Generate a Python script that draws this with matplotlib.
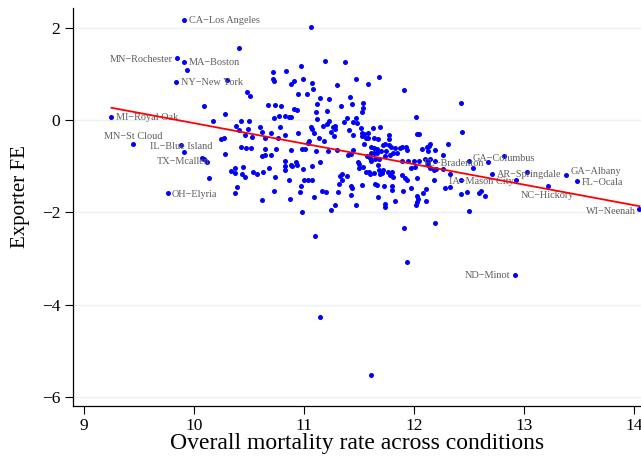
import numpy as np
import matplotlib
matplotlib.use("Agg")
import matplotlib.pyplot as plt

# labelled metro areas (name, mortality rate, exporter FE)
lab_names = ["CA−Los Angeles", "MN−Rochester", "MA−Boston", "NY−New York",
             "MI−Royal Oak", "MN−St Cloud", "IL−Blue Island", "TX−Mcallen",
             "OH−Elyria", "FL−Bradenton", "GA−Columbus", "IA−Mason City",
             "AR−Springdale", "GA−Albany", "FL−Ocala", "NC−Hickory",
             "WI−Neenah", "ND−Minot"]
lab_x = [9.91, 9.85, 9.91, 9.84, 9.25, 9.45, 9.91, 10.12, 9.76, 12.05, 12.50,
         12.28, 12.71, 13.38, 13.48, 13.22, 14.05, 12.92]
lab_y = [2.17, 1.34, 1.26, 0.83, 0.07, -0.51, -0.70, -0.90, -1.59, -0.89, -0.88,
         -1.47, -1.17, -1.19, -1.33, -1.44, -1.92, -3.35]

# everything else
other_x = [
    9.94, 10.41, 10.72, 10.84, 10.97, 10.72, 10.73, 10.91, 10.88, 10.30, 10.48, 10.51,
    10.95, 10.09, 10.67, 10.74, 10.79, 10.91, 10.94, 10.28, 10.73, 10.77, 10.83, 10.86,
    10.88, 10.17, 10.43, 10.50, 10.38, 10.60, 10.78, 10.41, 10.49, 10.62, 10.70, 10.95,
    10.46, 10.53, 10.27, 10.25, 10.65, 10.76, 10.83, 9.88, 10.43, 10.47, 10.52, 10.65,
    10.75, 10.88, 10.98, 10.28, 10.62, 10.65, 10.70, 10.07, 10.09, 10.83, 10.93, 10.88,
    10.89, 10.83, 10.94, 10.45, 10.37, 10.68, 10.34, 10.37, 10.54, 10.57, 10.63, 10.83,
    10.99, 10.44, 10.46, 10.14, 10.74, 10.86, 11.00, 10.39, 10.97, 10.37, 10.73, 10.96,
    10.62, 10.87, 10.98,
    11.06, 11.19, 11.37, 10.99, 11.47, 11.68, 11.07, 11.58, 11.30, 11.08, 11.03, 11.91,
    11.15, 11.23, 11.42, 11.54, 11.12, 11.34, 11.44, 11.54, 11.11, 11.21, 11.53, 11.47,
    11.39, 11.12, 11.23, 11.21, 11.36, 11.45, 11.48, 11.28, 11.26, 11.28, 11.17, 11.06,
    11.07, 11.52, 11.63, 11.69, 11.41, 11.09, 11.25, 11.53, 11.55, 11.53, 11.58, 11.58,
    11.56, 11.27, 11.45, 11.14, 11.77, 11.64, 11.67, 11.77, 11.18, 11.05, 11.04, 11.55,
    11.74, 11.72, 11.77, 11.79, 11.83, 11.87, 11.89, 11.93, 11.94, 11.61, 11.64, 11.66,
    11.30, 11.45, 11.01, 11.11, 11.22, 11.40, 11.43, 11.61, 11.64, 11.66, 11.70, 11.75,
    11.81, 11.85, 11.78, 11.74, 11.57, 11.60, 11.61, 11.65, 11.68, 11.15, 11.49, 11.50,
    11.89, 11.95, 11.67, 11.07, 11.50, 11.54, 11.97, 11.56, 11.59, 11.60, 11.64, 11.68,
    11.72, 11.71, 11.69, 11.76, 11.80, 11.78, 11.81, 11.35, 11.33, 11.39, 11.89, 11.92,
    11.94, 11.04, 11.07, 11.35, 11.32, 11.53, 11.65, 11.43, 11.44, 11.66, 11.73, 11.80,
    11.80, 11.97, 11.90, 11.16, 11.20, 11.31, 11.09, 11.43, 11.67, 11.83, 11.47, 11.74,
    11.74, 11.28, 11.25, 11.91, 11.10, 11.15, 11.61, 11.94,
    12.43, 12.02, 12.03, 12.05, 12.44, 12.31, 12.07, 12.12, 12.14, 12.15, 12.13, 12.19,
    12.26, 12.00, 12.10, 12.13, 12.15, 12.19, 12.13, 12.15, 12.18, 12.20, 12.26, 12.01,
    12.67, 12.82, 12.54, 13.03, 12.93, 12.03, 12.18, 12.33, 12.43, 12.11, 12.08, 12.03,
    12.04, 12.03, 12.02, 12.11, 12.33, 12.43, 12.48, 12.59, 12.61, 12.65, 12.50, 12.19]
other_y = [
    1.08, 1.57, 1.05, 1.07, 1.17, 0.88, 0.85, 0.85, 0.78, 0.87, 0.61, 0.53,
    0.56, 0.30, 0.33, 0.33, 0.30, 0.25, 0.22, 0.14, 0.05, 0.08, 0.09, 0.07,
    0.07, -0.01, -0.03, -0.02, -0.13, -0.15, -0.16, -0.21, -0.19, -0.25, -0.28, -0.29,
    -0.32, -0.37, -0.38, -0.41, -0.38, -0.38, -0.32, -0.54, -0.59, -0.60, -0.61, -0.63,
    -0.62, -0.65, -0.62, -0.74, -0.78, -0.75, -0.75, -0.82, -0.85, -0.88, -0.90, -0.97,
    -0.99, -1.00, -0.97, -1.01, -1.03, -1.04, -1.11, -1.15, -1.12, -1.16, -1.12, -1.09,
    -1.07, -1.18, -1.24, -1.25, -1.24, -1.30, -1.29, -1.45, -1.43, -1.58, -1.54, -1.57,
    -1.74, -1.72, -2.00,
    2.02, 1.28, 1.25, 0.88, 0.88, 0.93, 0.80, 0.78, 0.75, 0.67, 0.57, 0.65,
    0.48, 0.46, 0.49, 0.37, 0.35, 0.31, 0.34, 0.26, 0.18, 0.19, 0.17, 0.04,
    0.04, 0.03, -0.02, -0.09, -0.04, -0.05, -0.07, -0.12, -0.16, -0.20, -0.12, -0.15,
    -0.19, -0.17, -0.17, -0.15, -0.22, -0.28, -0.26, -0.28, -0.31, -0.35, -0.28, -0.38,
    -0.38, -0.35, -0.32, -0.38, -0.33, -0.38, -0.42, -0.42, -0.46, -0.46, -0.49, -0.51,
    -0.52, -0.55, -0.55, -0.59, -0.60, -0.61, -0.59, -0.58, -0.64, -0.59, -0.60, -0.63,
    -0.64, -0.65, -0.63, -0.67, -0.67, -0.75, -0.74, -0.71, -0.72, -0.72, -0.66, -0.66,
    -0.71, -0.71, -0.76, -0.78, -0.78, -0.83, -0.88, -0.85, -0.85, -0.91, -0.91, -0.96,
    -0.88, -0.88, -0.98, -1.00, -1.04, -1.02, -1.05, -1.13, -1.12, -1.17, -1.15, -1.09,
    -1.09, -1.15, -1.17, -1.13, -1.13, -1.20, -1.24, -1.17, -1.22, -1.22, -1.20, -1.26,
    -1.31, -1.29, -1.31, -1.29, -1.38, -1.41, -1.38, -1.43, -1.47, -1.41, -1.44, -1.44,
    -1.52, -1.48, -1.54, -1.53, -1.55, -1.57, -1.66, -1.63, -1.67, -1.75, -1.84, -1.81,
    -1.89, -1.85, -1.94, -2.35, -2.52, -4.28, -5.52, -3.07,
    0.38, 0.07, -0.30, -0.30, -0.26, -0.52, -0.63, -0.59, -0.57, -0.52, -0.67, -0.65,
    -0.76, -0.88, -0.85, -0.90, -0.85, -0.89, -0.98, -1.04, -1.09, -1.07, -1.06, -1.02,
    -0.92, -0.78, -1.04, -1.13, -1.31, -1.26, -1.29, -1.18, -1.29, -1.49, -1.58, -1.64,
    -1.71, -1.77, -1.85, -1.76, -1.46, -1.61, -1.55, -1.58, -1.54, -1.65, -1.98, -2.24]

x_ticks = [9, 10, 11, 12, 13, 14]
y_ticks = [-6, -4, -2, 0, 2]

# label placement: (ha, dx, dy) in pixels from the point
lab_pos = {
    "CA−Los Angeles": ("left", 5, 0), "MN−Rochester": ("right", -5, 0),
    "MA−Boston": ("left", 5, 0), "NY−New York": ("left", 4.5, 0),
    "MI−Royal Oak": ("left", 4.5, 0), "MN−St Cloud": ("center", 0, 8),
    "IL−Blue Island": ("center", -3, 7), "TX−Mcallen": ("right", 2, 1),
    "OH−Elyria": ("left", 4.5, 0), "FL−Bradenton": ("left", 4, -1.5),
    "GA−Columbus": ("left", 4, 3.5), "IA−Mason City": ("left", 4, 7),
    "AR−Springdale": ("left", 4.5, 1), "GA−Albany": ("left", 4.5, 4.5),
    "FL−Ocala": ("left", 4.5, -0.5), "NC−Hickory": ("center", -0.5, -8),
    "WI−Neenah": ("right", -3, -1.5), "ND−Minot": ("right", -4.5, 0),
}

plt.rcParams["font.family"] = ["Liberation Serif", "DejaVu Serif"]

fig = plt.figure(figsize=(6.41, 4.58), dpi=100)
ax = fig.add_axes([73 / 641, 1 - 406 / 458, 568 / 641, 398 / 458])

all_x = np.array(other_x + lab_x)
all_y = np.array(other_y + lab_y)

ax.scatter(all_x, all_y, s=13, color="#0000ff", linewidths=0, zorder=3)

for name, x, y in zip(lab_names, lab_x, lab_y):
    ha, dx, dy = lab_pos[name]
    ax.annotate(name, (x, y), xytext=(dx, dy), textcoords="offset pixels",
                ha=ha, va="center_baseline", fontsize=7.4, color="#5e5e5e", zorder=4)

# linear fit
b, a = np.polyfit(all_x, all_y, 1)
xs = np.array([all_x.min(), all_x.max()])
ax.plot(xs, a + b * xs, color="#ff0000", lw=1.3, zorder=5)

ax.set_xlim(8.9, 14.064)
ax.set_ylim(-6.2, 2.43)
ax.set_xticks(x_ticks)
ax.set_yticks(y_ticks)
ax.tick_params(labelsize=12.5, length=6, width=0.8, direction="out", pad=3)
ax.grid(axis="y", color="#eaf2f3", lw=1, zorder=0)
ax.set_axisbelow(True)
for s in ["top", "right"]:
    ax.spines[s].set_visible(False)
for s in ["left", "bottom"]:
    ax.spines[s].set_linewidth(0.9)

ax.set_ylabel("Exporter FE", fontsize=15)
ax.yaxis.set_label_coords(-0.075, 0.525)
ax.set_xlabel("Overall mortality rate across conditions", fontsize=17, labelpad=-1)

fig.savefig("out.png", dpi=100)
